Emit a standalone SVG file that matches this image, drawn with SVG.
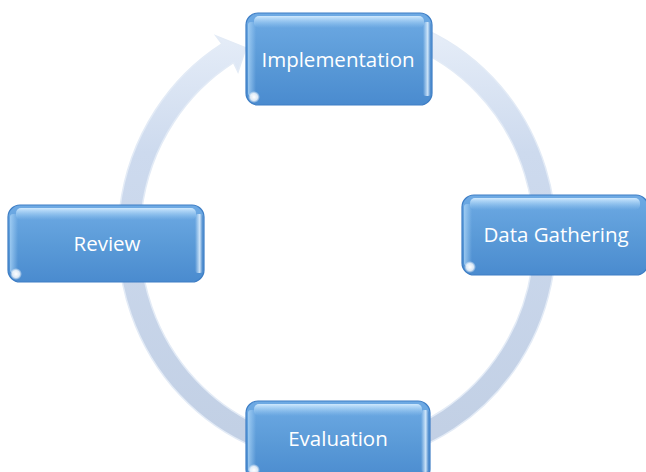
<svg xmlns="http://www.w3.org/2000/svg" width="646" height="472" viewBox="0 0 646 472">
<defs>
<linearGradient id="ringGrad" gradientUnits="userSpaceOnUse" x1="0" y1="20" x2="0" y2="460">
<stop offset="0" stop-color="#e8eff9"/>
<stop offset="0.3" stop-color="#cddaee"/>
<stop offset="1" stop-color="#c1cfe4"/>
</linearGradient>
<linearGradient id="boxFill" x1="0" y1="0" x2="0" y2="1">
<stop offset="0" stop-color="#6eaae4"/>
<stop offset="0.5" stop-color="#5b9bd8"/>
<stop offset="1" stop-color="#4a8bcf"/>
</linearGradient>
<linearGradient id="topHi" x1="0" y1="0" x2="0" y2="1">
<stop offset="0" stop-color="#d4ecff" stop-opacity="0.95"/>
<stop offset="1" stop-color="#9fd0f6" stop-opacity="0"/>
</linearGradient>
<linearGradient id="leftHi" x1="0" y1="0" x2="1" y2="0">
<stop offset="0" stop-color="#a9d3f6" stop-opacity="0.8"/>
<stop offset="1" stop-color="#a9d3f6" stop-opacity="0"/>
</linearGradient>
<linearGradient id="rightHi" x1="0" y1="0" x2="1" y2="0">
<stop offset="0" stop-color="#e2f2ff" stop-opacity="0"/>
<stop offset="0.6" stop-color="#e2f2ff" stop-opacity="0.85"/>
<stop offset="1" stop-color="#3b7bc3" stop-opacity="0.6"/>
</linearGradient>
<radialGradient id="glare">
<stop offset="0" stop-color="#ffffff" stop-opacity="1"/>
<stop offset="0.6" stop-color="#ffffff" stop-opacity="0.8"/>
<stop offset="1" stop-color="#ffffff" stop-opacity="0"/>
</radialGradient>
</defs>
<style>
.box{fill:url(#boxFill);stroke:#3e7ec5;stroke-width:1.2}
.top{fill:url(#topHi)}
.lh{fill:url(#leftHi)}
.rh{fill:url(#rightHi)}
.gl{fill:url(#glare)}
.lbl{font-family:"Open Sans","Liberation Sans",sans-serif;font-size:20.5px;fill:#ffffff;text-anchor:middle}
.ring{fill:url(#ringGrad);stroke:#e3ebf6;stroke-width:1.5}
</style>
<rect width="646" height="472" fill="#ffffff"/>
<g id="connectors">
<path class="ring" d="M415.5,25.1 A219,227 0 1 1 221.9,43.9 L216,36 L246,48 L238,72 L233.5,62.6 A197,205 0 1 0 407.6,45.6 Z"/>
</g>
<g id="implementation">
<rect class="box" x="246" y="13" width="186" height="92" rx="12"/>
<rect class="top" x="254" y="16" width="170" height="12" rx="5"/>
<rect class="lh" x="248" y="22" width="8" height="74" rx="3"/>
<rect class="rh" x="423" y="22" width="8" height="74" rx="3"/>
<circle class="gl" cx="254" cy="97" r="6"/>
<text class="lbl" x="338" y="67">Implementation</text>
</g>
<g id="data-gathering">
<rect class="box" x="462" y="195" width="186" height="80" rx="12"/>
<rect class="top" x="470" y="198" width="170" height="12" rx="5"/>
<rect class="lh" x="464" y="204" width="8" height="62" rx="3"/>
<circle class="gl" cx="470" cy="267" r="6"/>
<text class="lbl" x="556" y="242">Data Gathering</text>
</g>
<g id="review">
<rect class="box" x="8" y="205" width="196" height="77" rx="12"/>
<rect class="top" x="16" y="208" width="180" height="12" rx="5"/>
<rect class="lh" x="10" y="214" width="8" height="59" rx="3"/>
<rect class="rh" x="195" y="214" width="8" height="59" rx="3"/>
<circle class="gl" cx="16" cy="274" r="6"/>
<text class="lbl" x="107" y="251">Review</text>
</g>
<g id="evaluation">
<rect class="box" x="246" y="401" width="184" height="80" rx="12"/>
<rect class="top" x="254" y="404" width="168" height="12" rx="5"/>
<rect class="lh" x="248" y="410" width="8" height="62" rx="3"/>
<rect class="rh" x="421" y="410" width="8" height="62" rx="3"/>
<circle class="gl" cx="254" cy="470" r="6"/>
<text class="lbl" x="338" y="446">Evaluation</text>
</g>
</svg>
